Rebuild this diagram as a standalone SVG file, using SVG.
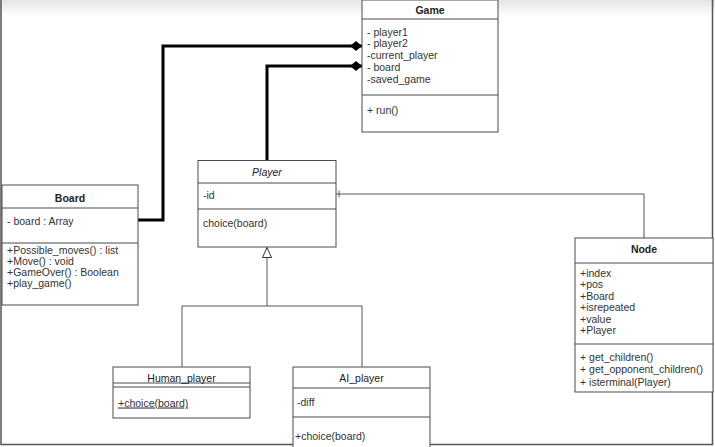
<svg xmlns="http://www.w3.org/2000/svg" width="715" height="447" viewBox="0 0 715 447">
  <defs>
    <linearGradient id="topShade" x1="0" y1="0" x2="0" y2="1">
      <stop offset="0" stop-color="#e4e4e4"/>
      <stop offset="1" stop-color="#ffffff"/>
    </linearGradient>
    <!-- filled diamond: composition end -->
    <marker id="diamond" markerUnits="userSpaceOnUse" markerWidth="13" markerHeight="11" viewBox="0 0 13 11" refX="12.5" refY="5.5" orient="auto">
      <path d="M0.5,5.5 L6.5,0.5 L12.5,5.5 L6.5,10.5 Z" fill="#000"/>
    </marker>
    <!-- hollow triangle: generalisation end -->
    <marker id="inherit" markerUnits="userSpaceOnUse" markerWidth="12" markerHeight="11" viewBox="0 0 12 11" refX="11" refY="5.5" orient="auto">
      <path d="M1,1 L11,5.5 L1,10 Z" fill="#fff" stroke="#333" stroke-width="1"/>
    </marker>
  </defs>
  <style>
    .box { fill: #fff; stroke: #4a4a4a; stroke-width: 1; }
    .sep { stroke: #4a4a4a; stroke-width: 1; fill: none; }
    text { font-family: "Liberation Sans", Arial, sans-serif; font-size: 10.5px; fill: #333; }
    .title { text-anchor: middle; fill: #222; }
    .bold { font-weight: bold; }
    .ital { font-style: italic; }
    .thick { fill: none; stroke: #000; stroke-width: 3; }
    .thin { fill: none; stroke: #555; stroke-width: 1; }
  </style>

  <!-- page background and frame -->
  <rect x="0" y="0" width="715" height="447" fill="#fff"/>
  <rect x="0" y="0" width="715" height="16" fill="url(#topShade)"/>
  <path d="M1,0 V444.5 H712.5 V0" fill="none" stroke="#555" stroke-width="1.5"/>

  <!-- connectors -->
  <g id="connectors">
    <path class="thick" d="M138,220 H163 V46 H362" marker-end="url(#diamond)"/>
    <path class="thick" d="M267,160 V66 H362" marker-end="url(#diamond)"/>
    <path class="thin" d="M336,194 H644 V238"/>
    <path class="thin" d="M339,190.5 V197.5"/>
    <path class="thin" d="M182,367 V306 H362 V367"/>
    <path class="thin" d="M267,306 V247.5" marker-end="url(#inherit)"/>
  </g>

  <!-- Game -->
  <g id="game">
    <rect class="box" x="362" y="0" width="136" height="132"/>
    <path class="sep" d="M362,19 H498 M362,95 H498"/>
    <text class="title bold" x="430" y="13.5">Game</text>
    <text x="367" y="35.5">- player1</text>
    <text x="367" y="47">- player2</text>
    <text x="367" y="58.5">-current_player</text>
    <text x="367" y="70.5">- board</text>
    <text x="367" y="82.5">-saved_game</text>
    <text x="367" y="113.5">+ run()</text>
  </g>

  <!-- Board -->
  <g id="board">
    <rect class="box" x="2" y="185" width="136" height="120"/>
    <path class="sep" d="M2,208 H138 M2,243 H138"/>
    <text class="title bold" x="70" y="202">Board</text>
    <text x="7" y="224.5">- board : Array</text>
    <text x="7" y="253.5">+Possible_moves() : list</text>
    <text x="7" y="264.5">+Move()  : void</text>
    <text x="7" y="275.5">+GameOver() : Boolean</text>
    <text x="7" y="286.5">+play_game()</text>
  </g>

  <!-- Player -->
  <g id="player">
    <rect class="box" x="198" y="160.5" width="138" height="86.5"/>
    <path class="sep" d="M198,183 H336 M198,209 H336"/>
    <text class="title ital" x="267" y="175.5">Player</text>
    <text x="203" y="198.5">-id</text>
    <text x="203" y="226.5">choice(board)</text>
  </g>

  <!-- Node -->
  <g id="node">
    <rect class="box" x="575" y="238" width="138" height="154"/>
    <path class="sep" d="M575,263 H713 M575,344 H713"/>
    <text class="title bold" x="644" y="253">Node</text>
    <text x="580" y="276.5">+index</text>
    <text x="580" y="288">+pos</text>
    <text x="580" y="299.5">+Board</text>
    <text x="580" y="311">+isrepeated</text>
    <text x="580" y="322.5">+value</text>
    <text x="580" y="334">+Player</text>
    <text x="580" y="360.5">+ get_children()</text>
    <text x="580" y="373">+ get_opponent_children()</text>
    <text x="580" y="385.5">+ isterminal(Player)</text>
  </g>

  <!-- Human_player -->
  <g id="human-player">
    <rect class="box" x="113" y="367" width="137" height="51"/>
    <path class="sep" d="M113,383 H250 M113,387 H250"/>
    <text class="title" x="181.5" y="381.5">Human_player</text>
    <text x="118" y="406.5" text-decoration="underline">+choice(board)</text>
  </g>

  <!-- AI_player -->
  <g id="ai-player">
    <rect class="box" x="293" y="367" width="137" height="82"/>
    <path class="sep" d="M293,388 H430 M293,417 H430"/>
    <text class="title" x="361.5" y="381.5">AI_player</text>
    <text x="297" y="405.5">-diff</text>
    <text x="295" y="439.5">+choice(board)</text>
  </g>
</svg>
